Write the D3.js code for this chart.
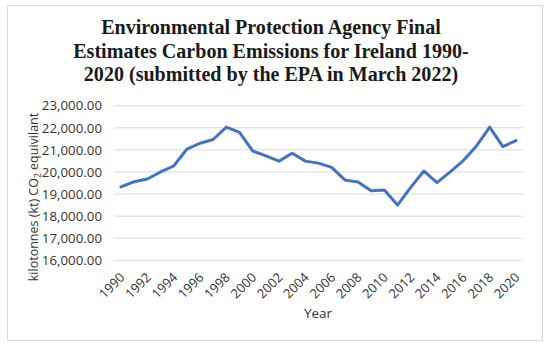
<!DOCTYPE html>
<html>
<head>
<meta charset="utf-8">
<script src="https://cdn.jsdelivr.net/npm/d3@7"></script>
<style>
  body { margin: 0; background: #fff; }
  svg { display: block; }
  .axis text { font-family: "Open Sans", sans-serif; fill: #333; }
</style>
</head>
<body>
<div id="chart"></div>
<script>
// data
const years = d3.range(1990, 2021);
const emissions = [
  19320, 19560, 19680, 20000, 20270, 21030, 21300, 21470, 22030, 21790,
  20950, 20730, 20490, 20850, 20490, 20400, 20210, 19640, 19550, 19150,
  19180, 18500, 19300, 20045, 19515, 20000, 20515, 21180, 22030, 21150,
  21420
];
const yTicks = [16000, 17000, 18000, 19000, 20000, 21000, 22000, 23000];
const xTickYears = years.filter(y => y % 2 === 0);
const titleLines = [
  "Environmental Protection Agency Final",
  "Estimates Carbon Emissions for Ireland 1990-",
  "2020 (submitted by the EPA in March 2022)"
];

const W = 550, H = 347;
var plot = { left: 114.4, right: 522.6, top: 105.7, bottom: 260.3 };

var svg = d3.select("#chart")
  .append("svg")
  .attr("width", W)
  .attr("height", H);

// chart border
svg.append("rect")
  .attr("x", 7.5).attr("y", 5.5)
  .attr("width", 535).attr("height", 335)
  .attr("fill", "#fff")
  .attr("stroke", "#d9d9d9");

// title, sized so line 1 is as wide as in the picture
var title = svg.append("text")
  .attr("text-anchor", "middle")
  .style("font-family", "'Liberation Serif', serif")
  .style("font-weight", "bold")
  .style("font-size", "20px")
  .attr("fill", "#1a1a1a");

title.selectAll("tspan")
  .data(titleLines)
  .enter().append("tspan")
  .attr("x", 271)
  .attr("y", (d, i) => 34 + i * 23.6)
  .text(d => d);

var w1 = title.select("tspan").node().getComputedTextLength();
title.style("font-size", (20 * 340 / w1) + "px");

var x = d3.scalePoint()
  .domain(years)
  .range([plot.left, plot.right])
  .padding(0.5);

var y = d3.scaleLinear()
  .domain([16000, 23000])
  .range([plot.bottom, plot.top]);

// gridlines
svg.append("g")
  .selectAll("line")
  .data(yTicks)
  .enter().append("line")
  .attr("x1", plot.left)
  .attr("x2", plot.right)
  .attr("y1", d => y(d))
  .attr("y2", d => y(d))
  .attr("stroke", "#d9d9d9")
  .attr("stroke-width", 1);

// y axis labels
var yAxis = d3.axisLeft(y)
  .tickValues(yTicks)
  .tickSize(0)
  .tickPadding(0)
  .tickFormat(d3.format(",.2f"));

var gy = svg.append("g")
  .attr("class", "axis")
  .attr("transform", "translate(102,0)")
  .call(yAxis);
gy.select(".domain").remove();
gy.selectAll("text").style("font-size", "13.3px");

// x axis labels, rotated
var xAxis = d3.axisBottom(x)
  .tickValues(xTickYears)
  .tickSize(0)
  .tickPadding(0);

var gx = svg.append("g")
  .attr("class", "axis")
  .attr("transform", `translate(0, ${plot.bottom})`)
  .call(xAxis);
gx.select(".domain").remove();
gx.selectAll("text")
  .style("font-size", "13px")
  .attr("text-anchor", "end")
  .attr("y", 0)
  .attr("dy", 0)
  .attr("transform", "translate(4,18) rotate(-45)");

// axis titles
svg.append("text")
  .attr("x", 318)
  .attr("y", 318)
  .attr("text-anchor", "middle")
  .style("font-family", "'Open Sans', sans-serif")
  .style("font-size", "13.5px")
  .attr("fill", "#333")
  .text("Year");

var yTitle = svg.append("text")
  .attr("transform", "translate(38,197) rotate(-90)")
  .attr("text-anchor", "middle")
  .style("font-family", "'Open Sans', sans-serif")
  .style("font-size", "12.5px")
  .attr("fill", "#333");
yTitle.append("tspan").text("kilotonnes (kt) CO");
yTitle.append("tspan").attr("dy", 2.5).style("font-size", "8.5px").text("2");
yTitle.append("tspan").attr("dy", -2.5).text(" equivilant");

// the line
var line = d3.line()
  .x((d, i) => x(years[i]))
  .y(d => y(d));

svg.append("path")
  .datum(emissions)
  .attr("d", line)
  .attr("fill", "none")
  .attr("stroke", "#4472c4")
  .attr("stroke-width", 3)
  .attr("stroke-linejoin", "round")
  .attr("stroke-linecap", "round");
</script>
</body>
</html>
